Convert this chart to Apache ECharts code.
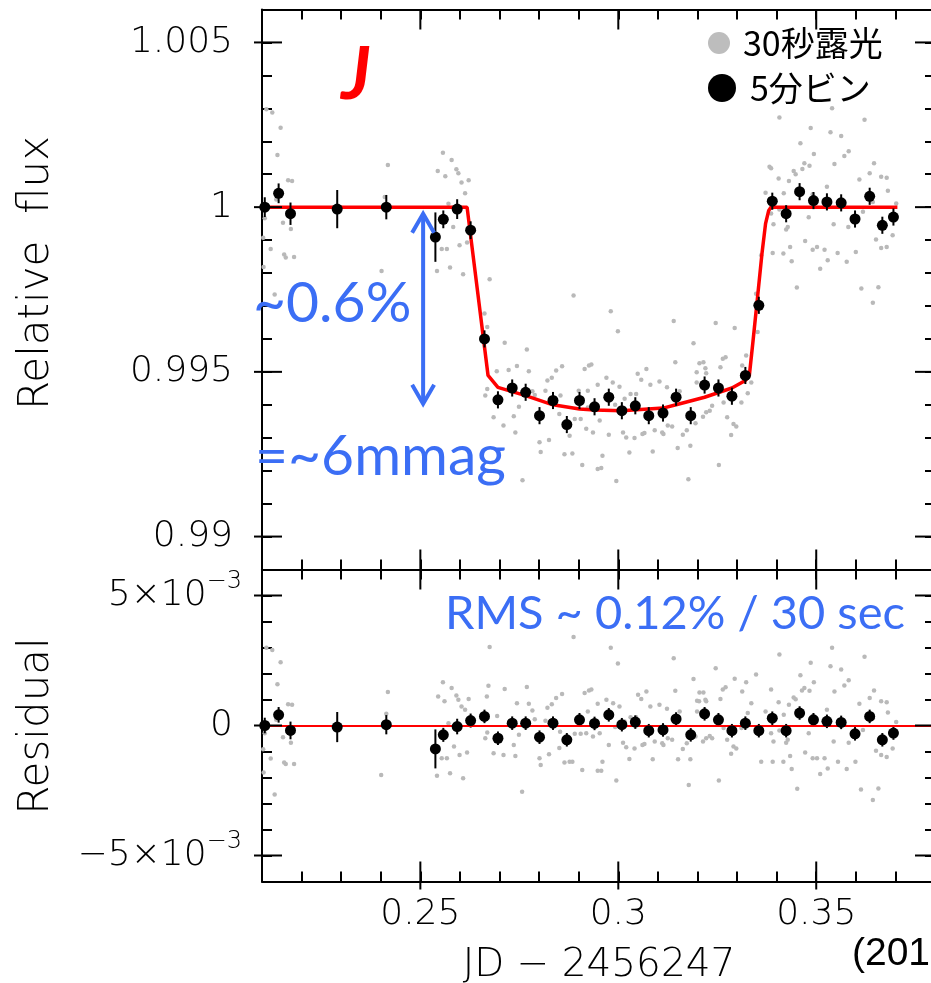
<!DOCTYPE html>
<html><head><meta charset="utf-8">
<script src="https://cdn.jsdelivr.net/npm/echarts@6/dist/echarts.min.js"></script>
<style>html,body{margin:0;padding:0;background:#fff;}#c{width:931px;height:983px;}</style>
</head><body><div id="c"></div>
<script>
// ---------- data ----------
const xRange = [0.21, 0.38];
const fluxRange = [0.989, 1.006];
const resRange = [-0.006, 0.006];
const xMajor = [0.25, 0.3, 0.35];
const fluxMajor = [0.99, 0.995, 1.0, 1.005];
const resMajor = [-0.005, 0, 0.005];

const binX = [0.2107,0.2142,0.2172,0.2290,0.2414,0.2538,0.2558,0.2593,0.2627,0.2662,
  0.2696,0.2732,0.2766,0.2801,0.2835,0.2870,0.2902,0.2940,0.2976,0.3009,
  0.3043,0.3077,0.3113,0.3146,0.3183,0.3218,0.3253,0.3287,0.3321,0.3355,
  0.3389,0.3424,0.3458,0.3493,0.3527,0.3563,0.3598,0.3635,0.3667,0.3695];
const binFlux = [1.0000,1.00042,0.99980,0.99994,1.0000,0.99909,0.99963,0.99994,0.99930,0.99600,
  0.99415,0.99451,0.99438,0.99367,0.99413,0.99340,0.99413,0.99394,0.99423,0.99382,
  0.99397,0.99367,0.99375,0.99423,0.99367,0.99460,0.99451,0.99426,0.99489,0.99702,
  1.00018,0.99980,1.00047,1.00020,1.00016,1.00013,0.99964,1.00033,0.99945,0.99970];
const binRes = [0,0.00041,-0.00019,-0.00006,0.00003,-0.0009,-0.00036,-0.00004,0.00019,0.00035,
  -0.00049,0.00009,0.00009,-0.00045,0.00009,-0.00055,0.00022,0.00008,0.00041,0.00003,
  0.00013,-0.0002,-0.00017,0.00025,-0.00036,0.00045,0.00022,-0.0002,0.00009,-0.0002,
  0.00028,-0.0002,0.00048,0.00022,0.00016,0.00012,-0.00032,0.00035,-0.00055,-0.00029];
const binErr = [0.0003,0.0003,0.00034,0.00058,0.00037,0.00075,0.00027,0.0003,0.00027,0.00026,
  0.00026,0.00026,0.00026,0.00026,0.00026,0.00026,0.00026,0.00026,0.00026,0.00026,
  0.00026,0.00026,0.00026,0.00026,0.00026,0.00026,0.00026,0.00026,0.00026,0.00026,
  0.00026,0.00026,0.00026,0.00026,0.00026,0.00026,0.00026,0.00026,0.00026,0.00026];

const modelX = [0.2100,0.2618,0.2671,0.2696,0.2766,0.2835,0.2902,0.2940,0.3009,0.3113,0.3146,0.3218,0.3287,0.3321,0.3331,0.3340,0.3352,0.3363,0.3372,0.3380,0.3386,0.3705];
const modelY = [1.0,1.0,0.99489,0.99453,0.99428,0.99400,0.99387,0.99384,0.99382,0.99390,0.99400,0.99423,0.99451,0.99474,0.99489,0.99590,0.99730,0.99860,0.99950,0.99990,1.0,1.0];

const rawFlux = [
 [0.2111,1.00297],[0.2126,1.00287],[0.2147,1.00241],[0.2139,1.00158],[0.2166,1.00082],[0.2176,1.00079],[0.2136,1.00023],
 [0.2107,0.99966],[0.2153,0.99953],[0.2173,0.99934],[0.2103,0.99907],[0.2122,0.99873],[0.2156,0.99856],[0.2160,0.99847],
 [0.2181,0.99849],[0.2104,0.99818],[0.2132,0.99735],[0.2418,1.00128],[0.2410,1.00031],[0.2402,0.99806],
 [0.2544,1.0011],[0.2557,1.00165],[0.2563,1.00094],[0.2579,1.00143],[0.2591,1.00115],[0.2596,1.00103],[0.2604,1.00075],
 [0.2622,1.00082],[0.2613,1.00042],[0.2571,1.0001],[0.2583,0.9994],[0.2554,0.99873],[0.2567,0.99873],[0.2599,0.99884],
 [0.2618,0.99893],[0.2575,0.99817],[0.2542,0.99806],[0.2608,0.99796],[0.2675,0.99781],[0.2662,0.99677],[0.2669,0.99636],
 [0.2887,0.99732],[0.2713,0.99588],[0.2769,0.99568],[0.2693,0.99502],[0.2723,0.99506],[0.2744,0.99518],[0.2774,0.99502],
 [0.2669,0.99448],[0.2664,0.99428],[0.2685,0.99362],[0.2710,0.99337],[0.2740,0.99316],[0.2736,0.99365],[0.2749,0.99394],
 [0.2783,0.99441],[0.2789,0.9943],[0.2821,0.99474],[0.2832,0.99482],[0.2843,0.99504],[0.2858,0.99517],[0.2816,0.99443],
 [0.2854,0.99428],[0.2890,0.99357],[0.2905,0.99357],[0.2851,0.99372],[0.2877,0.99306],[0.2919,0.99327],[0.2936,0.99316],
 [0.2801,0.99286],[0.2804,0.99257],[0.2825,0.99293],[0.2864,0.9925],[0.2884,0.99252],[0.2909,0.99217],[0.2758,0.99171],
 [0.2915,0.99509],[0.2926,0.99519],[0.2932,0.99522],[0.2923,0.99443],[0.2948,0.99461],[0.2900,0.99443],[0.2948,0.99205],
 [0.2981,0.99684],[0.2999,0.99623],[0.3140,0.99654],[0.3246,0.99648],[0.3294,0.99633],[0.3190,0.99587],[0.3144,0.99529],
 [0.3205,0.99526],[0.3215,0.99529],[0.3220,0.99511],[0.3264,0.9954],[0.3271,0.99544],[0.3258,0.99514],[0.3323,0.9955],
 [0.3313,0.99519],[0.2970,0.99482],[0.2986,0.99468],[0.3003,0.99455],[0.3058,0.99476],[0.3049,0.99494],[0.3071,0.99509],
 [0.3081,0.99461],[0.3104,0.99471],[0.3123,0.99453],[0.3155,0.99441],[0.3198,0.99499],[0.3198,0.99468],[0.3222,0.99496],
 [0.3237,0.99397],[0.3231,0.99382],[0.3222,0.99377],[0.3214,0.99364],[0.3266,0.99407],[0.3311,0.99407],[0.3327,0.99435],
 [0.3336,0.99468],[0.3016,0.99418],[0.3031,0.99433],[0.3045,0.99433],[0.2992,0.994],[0.2923,0.99392],[0.2953,0.99352],
 [0.2976,0.99309],[0.3012,0.99316],[0.3020,0.99301],[0.3041,0.99299],[0.3061,0.99311],[0.3066,0.99314],[0.3028,0.99255],
 [0.3092,0.99323],[0.3111,0.99316],[0.3114,0.99311],[0.3125,0.99337],[0.3136,0.99334],[0.3163,0.99309],[0.3173,0.99323],
 [0.3195,0.99344],[0.3182,0.99276],[0.3150,0.99269],[0.3087,0.99258],[0.2960,0.99245],[0.2957,0.99208],[0.2995,0.99169],
 [0.3177,0.99174],[0.3254,0.99217],[0.3285,0.99308],[0.3291,0.99342],[0.3298,0.99334],[0.3275,0.99362],[0.3352,0.99621],
 [0.3348,0.99737],[0.3451,0.99756],[0.3614,0.99753],[0.3643,0.9971],[0.3657,0.99757],[0.3407,1.00272],[0.3540,1.003],
 [0.3622,1.00265],[0.3486,1.0024],[0.3536,1.00227],[0.3563,1.00216],[0.3460,1.00194],[0.3494,1.00161],[0.3582,1.0017],
 [0.3571,1.00155],[0.3546,1.00131],[0.3470,1.00133],[0.3465,1.00116],[0.3483,1.00126],[0.3646,1.00133],[0.3382,1.00123],
 [0.3386,1.00118],[0.3443,1.0011],[0.3448,1.001],[0.3431,1.00079],[0.3405,1.00087],[0.3635,1.00103],[0.3664,1.00092],
 [0.3678,1.00089],[0.3609,1.00084],[0.3527,1.00062],[0.3681,1.0005],[0.3372,1.00044],[0.3418,1.00042],[0.3491,1.00039],
 [0.3643,1.00016],[0.3702,1.00011],[0.3407,0.99993],[0.3386,0.99981],[0.3481,0.99969],[0.3618,0.99986],[0.3392,0.99948],
 [0.3424,0.99932],[0.3428,0.9994],[0.3544,0.99948],[0.3581,0.9994],[0.3651,0.99902],[0.3678,0.99879],[0.3664,0.99876],
 [0.3693,0.99915],[0.3502,0.99879],[0.3491,0.99871],[0.3521,0.99871],[0.3390,0.99861],[0.3417,0.99859],[0.3434,0.99879],
 [0.3472,0.99897],[0.3600,0.99864],[0.3554,0.99861],[0.3361,0.99854],[0.3438,0.99836],[0.3510,0.99813],[0.3529,0.99839],
 [0.3577,0.99834]];

const rawRes = [
 [0.2111,0.00299],[0.2126,0.0029],[0.2147,0.00243],[0.2139,0.00159],[0.2166,0.00082],[0.2176,0.0008],[0.2136,0.00022],
 [0.2107,-0.0003],[0.2153,-0.00045],[0.2173,-0.00066],[0.2103,-0.00091],[0.2122,-0.00127],[0.2156,-0.00142],[0.2160,-0.00148],
 [0.2181,-0.00148],[0.2104,-0.00181],[0.2132,-0.00265],[0.2418,0.00129],[0.2414,0.00045],[0.2401,-0.0019],
 [0.2545,0.00112],[0.2557,0.00166],[0.2561,0.00093],[0.2579,0.00144],[0.2591,0.00115],[0.2596,0.00099],[0.2604,0.00073],
 [0.2622,0.00102],[0.2613,0.00061],[0.2571,0.00009],[0.2585,-0.00081],[0.2554,-0.00126],[0.2567,-0.00126],[0.2599,-0.00113],
 [0.2618,-0.00104],[0.2575,-0.00184],[0.2542,-0.00193],[0.2608,-0.00203],[0.2675,0.00302],[0.2672,0.00153],[0.2668,0.00112],
 [0.2694,0.00037],[0.2713,0.0014],[0.2744,0.00086],[0.2769,0.00148],[0.2774,0.00084],[0.2783,0.00058],[0.2789,0.00024],
 [0.2821,0.00068],[0.2832,0.00082],[0.2843,0.00106],[0.2858,0.00121],[0.2816,0.00018],[0.2853,-0.00024],[0.2669,-0.00027],
 [0.2664,-0.00049],[0.2685,-0.00107],[0.2710,-0.00113],[0.2736,-0.00075],[0.2749,-0.00036],[0.2740,-0.00117],[0.2890,-0.00032],
 [0.2905,-0.00032],[0.2851,-0.00087],[0.2877,-0.00139],[0.2801,-0.00126],[0.2804,-0.00152],[0.2825,-0.00111],[0.2864,-0.00142],
 [0.2884,-0.00139],[0.2909,-0.00171],[0.2757,-0.00255],[0.2887,0.0034],[0.2915,0.00125],[0.2926,0.00135],[0.2932,0.00138],
 [0.2923,0.00054],[0.2902,0.00028],[0.2948,0.00084],[0.2919,-0.0003],[0.2936,-0.00042],[0.2948,-0.00174],
 [0.2981,0.00299],[0.2999,0.00238],[0.3140,0.00259],[0.3246,0.0022],[0.3294,0.0018],[0.3190,0.00179],[0.3144,0.00134],
 [0.3205,0.00127],[0.3215,0.00127],[0.3220,0.00099],[0.3264,0.00138],[0.3271,0.00147],[0.3258,0.00102],[0.3323,0.00166],
 [0.3313,0.00131],[0.2970,0.00099],[0.2987,0.00086],[0.3003,0.00073],[0.3058,0.00102],[0.3050,0.00118],[0.3071,0.00131],
 [0.3081,0.00073],[0.3104,0.0008],[0.3123,0.00064],[0.3155,0.00054],[0.3199,0.00095],[0.3204,0.00093],[0.3199,0.00054],
 [0.3222,0.00093],[0.3237,-0.00049],[0.3231,-0.0004],[0.3222,-0.00049],[0.3214,-0.00062],[0.3266,-0.0001],[0.3311,-0.0001],
 [0.3327,0.00048],[0.3336,0.00086],[0.3016,0.00015],[0.3031,0.00032],[0.3045,0.00032],[0.2992,-0.00006],[0.2953,-0.0003],
 [0.2976,-0.00075],[0.3012,-0.00066],[0.3020,-0.00084],[0.3041,-0.00088],[0.3061,-0.00075],[0.3066,-0.00071],[0.3028,-0.00129],
 [0.3092,-0.00062],[0.3111,-0.00068],[0.3114,-0.00075],[0.3125,-0.00049],[0.3136,-0.00055],[0.3163,-0.0009],[0.3173,-0.00068],
 [0.3195,-0.00042],[0.3182,-0.0013],[0.3151,-0.0013],[0.3087,-0.0013],[0.2960,-0.00139],[0.2957,-0.00174],[0.2995,-0.00212],
 [0.3178,-0.00229],[0.3254,-0.00212],[0.3285,-0.00109],[0.3291,-0.00081],[0.3298,-0.00088],[0.3275,-0.00055],[0.3348,0.00196],
 [0.3407,0.00273],[0.3540,0.00299],[0.3622,0.00264],[0.3486,0.00241],[0.3536,0.00228],[0.3563,0.00215],[0.3460,0.00193],
 [0.3494,0.00166],[0.3582,0.00174],[0.3571,0.00154],[0.3546,0.00131],[0.3470,0.00144],[0.3464,0.00135],[0.3483,0.00134],
 [0.3646,0.00135],[0.3386,0.00138],[0.3443,0.00108],[0.3448,0.00101],[0.3431,0.0008],[0.3405,0.00089],[0.3635,0.00106],
 [0.3664,0.00093],[0.3678,0.00089],[0.3609,0.00084],[0.3527,0.00061],[0.3681,0.0005],[0.3372,0.00054],[0.3418,0.00041],
 [0.3491,0.00037],[0.3643,0.00028],[0.3702,0.00013],[0.3407,-0.00019],[0.3386,-0.0003],[0.3481,-0.0003],[0.3618,-0.00017],
 [0.3392,-0.00062],[0.3424,-0.00066],[0.3428,-0.00055],[0.3544,-0.00062],[0.3582,-0.00066],[0.3651,-0.00097],[0.3678,-0.00121],
 [0.3664,-0.00113],[0.3693,-0.00088],[0.3502,-0.00126],[0.3491,-0.00126],[0.3521,-0.00126],[0.3390,-0.00139],[0.3417,-0.00139],
 [0.3434,-0.00117],[0.3472,-0.00104],[0.3599,-0.00139],[0.3555,-0.00139],[0.3361,-0.00139],[0.3438,-0.00167],[0.3510,-0.00187],
 [0.3529,-0.00165],[0.3577,-0.00167],[0.3452,-0.00243],[0.3613,-0.00246],[0.3657,-0.00242],[0.3643,-0.00287]];

// depth-arrow annotation (data coordinates)
const arrowX = 0.2507, arrowTop = 0.99983, arrowBottom = 0.99400;

// ---------- chart ----------
const chart = echarts.init(document.getElementById('c'), null, {renderer: 'canvas'});
const BLACK = {color: '#000', width: 2};
const AXFONT = 'DejaVu Sans';
const tickText = {fontFamily: AXFONT, fontWeight: 200, fontSize: 36, color: '#000'};
const BLUE = '#3b6ef5';

function isMult(v, step) { const r = v / step; return Math.abs(r - Math.round(r)) < 1e-6; }
function fmt(v) { return String(Math.round(v * 1000) / 1000); }

function valAxis(extra) {
  return Object.assign({
    type: 'value', scale: true,
    splitLine: {show: false},
    axisLine: {show: true, onZero: false, lineStyle: BLACK},
    axisTick: {show: true, inside: true, length: 10, lineStyle: BLACK},
    axisLabel: {show: false}
  }, extra);
}

function resFmt(v) {
  if (!isMult(v, 0.005)) return '';
  const k = Math.round(v / 0.001);
  if (k === 0) return '{z|0}';
  return '{m|' + (k < 0 ? '\u2212' : '') + Math.abs(k) + '×10}{s|\u22123}';
}

function tickRender(xr, yr, outLeft, outBottom) {
  return function (params, api) {
    const v = api.value(0), kind = api.value(1), L = 20;
    const S = {stroke: '#000', lineWidth: 2};
    if (kind === 0) {
      const b = api.coord([v, yr[0]]), t = api.coord([v, yr[1]]);
      return {type: 'group', children: [
        {type: 'line', shape: {x1: b[0], y1: b[1] + outBottom, x2: b[0], y2: b[1] - L}, style: S},
        {type: 'line', shape: {x1: t[0], y1: t[1], x2: t[0], y2: t[1] + L}, style: S}]};
    }
    const l = api.coord([xr[0], v]), r = api.coord([xr[1], v]);
    return {type: 'group', children: [
      {type: 'line', shape: {x1: l[0] - outLeft, y1: l[1], x2: l[0] + L, y2: l[1]}, style: S},
      {type: 'line', shape: {x1: r[0] - L, y1: r[1], x2: r[0], y2: r[1]}, style: S}]};
  };
}

function errRender(params, api) {
  const x = api.value(0), y = api.value(1), e = api.value(2);
  const a = api.coord([x, y - e]), b = api.coord([x, y + e]);
  return {type: 'line', shape: {x1: a[0], y1: a[1], x2: b[0], y2: b[1]}, style: {stroke: '#000', lineWidth: 2}};
}

const modelData = modelX.map((x, i) => [x, modelY[i]]);
const binFluxData = binX.map((x, i) => [x, binFlux[i]]);
const binResData = binX.map((x, i) => [x, binRes[i]]);
const errFluxData = binX.map((x, i) => [x, binFlux[i], binErr[i]]);
const errResData = binX.map((x, i) => [x, binRes[i], binErr[i]]);
const ticksTop = xMajor.map(v => [v, 0]).concat(fluxMajor.map(v => [v, 1]));
const ticksBot = xMajor.map(v => [v, 0]).concat(resMajor.map(v => [v, 1]));

const xBase = {min: xRange[0], max: xRange[1], interval: 0.01};
const option = {
  animation: false,
  backgroundColor: '#fff',
  grid: [
    {left: 262, top: 9.5, width: 673, height: 560, containLabel: false, outerBoundsMode: 'none'},
    {left: 262, top: 569.5, width: 673, height: 312, containLabel: false, outerBoundsMode: 'none'}
  ],
  xAxis: [
    valAxis(Object.assign({gridIndex: 0, position: 'bottom'}, xBase)),
    valAxis(Object.assign({gridIndex: 0, position: 'top'}, xBase)),
    valAxis(Object.assign({gridIndex: 1, position: 'bottom',
      axisLabel: Object.assign({show: true, margin: 15, formatter: v => isMult(v, 0.05) ? fmt(v) : ''}, tickText)}, xBase)),
    valAxis(Object.assign({gridIndex: 1, position: 'top'}, xBase))
  ],
  yAxis: [
    valAxis({gridIndex: 0, position: 'left', min: fluxRange[0], max: fluxRange[1], interval: 0.001,
      axisLabel: Object.assign({show: true, margin: 29, formatter: v => isMult(v, 0.005) ? fmt(v) : ''}, tickText)}),
    valAxis({gridIndex: 0, position: 'right', min: fluxRange[0], max: fluxRange[1], interval: 0.001}),
    valAxis({gridIndex: 1, position: 'left', min: resRange[0], max: resRange[1], interval: 0.001,
      axisLabel: Object.assign({show: true, margin: 20, formatter: resFmt,
        rich: {
          m: {fontFamily: AXFONT, fontWeight: 200, fontSize: 36, color: '#000', lineHeight: 52},
          s: {fontFamily: AXFONT, fontWeight: 200, fontSize: 24, color: '#000', lineHeight: 24, verticalAlign: 'top'},
          z: {fontFamily: AXFONT, fontWeight: 200, fontSize: 36, color: '#000', lineHeight: 52, padding: [0, 9, 0, 0]}
        }}, tickText)}),
    valAxis({gridIndex: 1, position: 'right', min: resRange[0], max: resRange[1], interval: 0.001})
  ],
  series: [
    {type: 'scatter', xAxisIndex: 0, yAxisIndex: 0, data: rawFlux, symbolSize: 4.5, silent: true, z: 2,
      itemStyle: {color: '#b9b9b9', opacity: 1}},
    {type: 'line', xAxisIndex: 0, yAxisIndex: 0, data: modelData, showSymbol: false, silent: true, z: 3,
      lineStyle: {color: '#ff0000', width: 3.5}},
    {type: 'custom', xAxisIndex: 0, yAxisIndex: 0, data: errFluxData, renderItem: errRender, silent: true, z: 4},
    {type: 'scatter', xAxisIndex: 0, yAxisIndex: 0, data: binFluxData, symbolSize: 11, silent: true, z: 5,
      itemStyle: {color: '#000', opacity: 1}},
    {type: 'custom', xAxisIndex: 0, yAxisIndex: 0, data: ticksTop, renderItem: tickRender(xRange, fluxRange, 8, 0), silent: true, z: 6},

    {type: 'scatter', xAxisIndex: 2, yAxisIndex: 2, data: rawRes, symbolSize: 4.5, silent: true, z: 2,
      itemStyle: {color: '#b9b9b9', opacity: 1}},
    {type: 'scatter', xAxisIndex: 2, yAxisIndex: 2, data: [], silent: true, z: 3,
      markLine: {silent: true, symbol: 'none', label: {show: false}, lineStyle: {color: '#ff0000', width: 2, type: 'solid'},
        data: [{yAxis: 0}]}},
    {type: 'custom', xAxisIndex: 2, yAxisIndex: 2, data: errResData, renderItem: errRender, silent: true, z: 4},
    {type: 'scatter', xAxisIndex: 2, yAxisIndex: 2, data: binResData, symbolSize: 11, silent: true, z: 5,
      itemStyle: {color: '#000', opacity: 1}},
    {type: 'custom', xAxisIndex: 2, yAxisIndex: 2, data: ticksBot, renderItem: tickRender(xRange, resRange, 8, 8), silent: true, z: 6}
  ]
};
chart.setOption(option);

// ---------- annotations ----------
const pTop = chart.convertToPixel({xAxisIndex: 0, yAxisIndex: 0}, [arrowX, arrowTop]);
const pBot = chart.convertToPixel({xAxisIndex: 0, yAxisIndex: 0}, [arrowX, arrowBottom]);
const AW = 11, AH = 20;
const blueStroke = {stroke: BLUE, lineWidth: 4, fill: null, lineJoin: 'miter'};

chart.setOption({graphic: [
  {type: 'text', x: 37, y: 273, rotation: Math.PI / 2, style: {text: 'Relative  flux', fontFamily: AXFONT, fontWeight: 200, fontSize: 42, fill: '#000', align: 'center', verticalAlign: 'middle'}},
  {type: 'text', x: 37, y: 726, rotation: Math.PI / 2, style: {text: 'Residual', fontFamily: AXFONT, fontWeight: 200, fontSize: 42, fill: '#000', align: 'center', verticalAlign: 'middle'}},
  {type: 'text', x: 599, y: 966, style: {text: 'JD \u2212 2456247', fontFamily: AXFONT, fontWeight: 200, fontSize: 39, fill: '#000', align: 'center', verticalAlign: 'middle'}},
  {type: 'text', x: 356, y: 76, style: {text: 'J', fontFamily: 'Lato', fontWeight: 'bold', fontStyle: 'italic', fontSize: 72, fill: '#ff0000', align: 'center', verticalAlign: 'middle'}},
  {type: 'circle', shape: {cx: 719, cy: 43, r: 11}, style: {fill: '#bdbdbd'}},
  {type: 'text', x: 743, y: 43, style: {text: '30秒露光', fontFamily: 'Noto Sans CJK JP', fontSize: 34, fill: '#000', align: 'left', verticalAlign: 'middle'}},
  {type: 'circle', shape: {cx: 722, cy: 88, r: 14}, style: {fill: '#000'}},
  {type: 'text', x: 750, y: 88, style: {text: '5分ビン', fontFamily: 'Noto Sans CJK JP', fontSize: 34, fill: '#000', align: 'left', verticalAlign: 'middle'}},
  {type: 'text', x: 253, y: 304, z: 20, style: {text: '~0.6%', fontFamily: 'Lato', fontSize: 57, fill: BLUE, align: 'left', verticalAlign: 'middle'}},
  {type: 'text', x: 255, y: 457, z: 20, style: {text: '=~6mmag', fontFamily: 'Lato', fontSize: 57, fill: BLUE, align: 'left', verticalAlign: 'middle'}},
  {type: 'text', x: 445, y: 614, z: 20, style: {text: 'RMS ~ 0.12% / 30 sec', fontFamily: 'Lato', fontSize: 47, fill: BLUE, align: 'left', verticalAlign: 'middle'}},
  {type: 'line', z: 20, shape: {x1: pTop[0], y1: pTop[1] + 2, x2: pBot[0], y2: pBot[1] - 2}, style: {stroke: BLUE, lineWidth: 4}},
  {type: 'polyline', z: 20, shape: {points: [[pTop[0] - AW, pTop[1] + AH], [pTop[0], pTop[1] + 1], [pTop[0] + AW, pTop[1] + AH]]}, style: blueStroke},
  {type: 'polyline', z: 20, shape: {points: [[pBot[0] - AW, pBot[1] - AH], [pBot[0], pBot[1] - 1], [pBot[0] + AW, pBot[1] - AH]]}, style: blueStroke},
  {type: 'text', x: 852, y: 954, style: {text: '(201', fontFamily: 'Liberation Sans', fontSize: 39, fill: '#000', align: 'left', verticalAlign: 'middle'}}
]});
</script>
</body></html>
